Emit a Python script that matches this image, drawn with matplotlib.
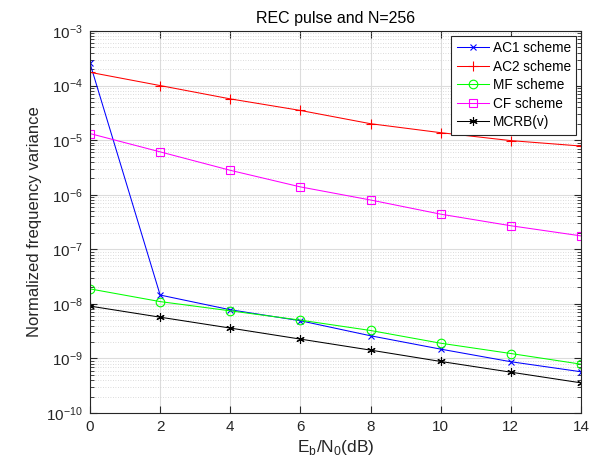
import matplotlib
matplotlib.use("Agg")
import matplotlib.pyplot as plt
from matplotlib.ticker import LogLocator, FixedLocator, NullFormatter

plt.rcParams['font.family'] = ['Liberation Sans', 'DejaVu Sans']

ebn0 = [0, 2, 4, 6, 8, 10, 12, 14]
ac1 = [2.56e-4, 1.45e-8, 7.8e-9, 4.9e-9, 2.6e-9, 1.48e-9, 8.7e-10, 5.7e-10]
ac2 = [1.75e-4, 1.0e-4, 5.7e-5, 3.5e-5, 2.0e-5, 1.37e-5, 9.8e-6, 7.8e-6]
mf = [1.88e-8, 1.1e-8, 7.45e-9, 5.03e-9, 3.25e-9, 1.9e-9, 1.23e-9, 7.85e-10]
cf = [1.32e-5, 6.1e-6, 2.8e-6, 1.39e-6, 8.0e-7, 4.4e-7, 2.7e-7, 1.76e-7]
mcrb = [9.1e-9, 5.7e-9, 3.6e-9, 2.26e-9, 1.42e-9, 8.8e-10, 5.6e-10, 3.57e-10]
labels = ['AC1 scheme', 'AC2 scheme', 'MF scheme', 'CF scheme', 'MCRB(v)']

fig = plt.figure(figsize=(5.89, 4.67), dpi=100)
ax = fig.add_axes([90/589, 1-413/467, (581-90)/589, (413-31)/467])

lw = 0.75
ax.semilogy(ebn0, ac1, color='#0000ff', marker='x', ms=5, lw=lw, mew=0.8, label=labels[0])
ax.semilogy(ebn0, ac2, color='#ff0000', marker='+', ms=7, lw=lw, mew=0.8, label=labels[1])
ax.semilogy(ebn0, mf, color='#00ff00', marker='o', ms=6.2, lw=lw, mew=0.8, mfc='none', label=labels[2])
ax.semilogy(ebn0, cf, color='#ff00ff', marker='s', ms=5.6, lw=lw, mew=0.8, mfc='none', label=labels[3])
ax.semilogy(ebn0, mcrb, color='#000000', marker=(6, 2, 0), ms=6, lw=lw, mew=0.8, label=labels[4])

ax.set_xlim(0, 14)
ax.set_ylim(1e-10, 1e-3)
ax.xaxis.set_major_locator(FixedLocator([0, 2, 4, 6, 8, 10, 12, 14]))
ax.yaxis.set_major_locator(LogLocator(base=10, numticks=20))
ax.yaxis.set_minor_locator(LogLocator(base=10, subs=range(2, 10), numticks=20))
ax.yaxis.set_minor_formatter(NullFormatter())

ax.grid(True, which='major', color='#dcdcdc', lw=0.8, ls='-')
ax.grid(True, which='minor', axis='y', color='#d0d0d0', lw=0.6, ls=(0, (1, 2)))
ax.set_axisbelow(True)

ax.tick_params(which='both', direction='in', top=True, right=True, colors='#262626', labelsize=11)
ax.tick_params(which='major', length=5, pad=5)
ax.tick_params(which='minor', length=3)
for s in ax.spines.values():
    s.set_color('#262626')
    s.set_linewidth(0.8)

ax.set_title('REC pulse and N=256', fontsize=11.5, color='#000000', pad=6)
ax.set_xlabel(r'E$_\mathregular{b}$/N$_\mathregular{0}$(dB)', fontsize=12.5, color='#262626', labelpad=3)
ax.set_ylabel('Normalized frequency variance', fontsize=12, color='#262626', labelpad=3)

leg = ax.legend(loc='upper right', fontsize=9.8, fancybox=False, framealpha=1,
                edgecolor='#262626', borderaxespad=0.35, handlelength=2.4,
                labelspacing=0.33, borderpad=0.4, handletextpad=0.25)
leg.get_frame().set_linewidth(0.8)

fig.savefig('out.png', dpi=100)
